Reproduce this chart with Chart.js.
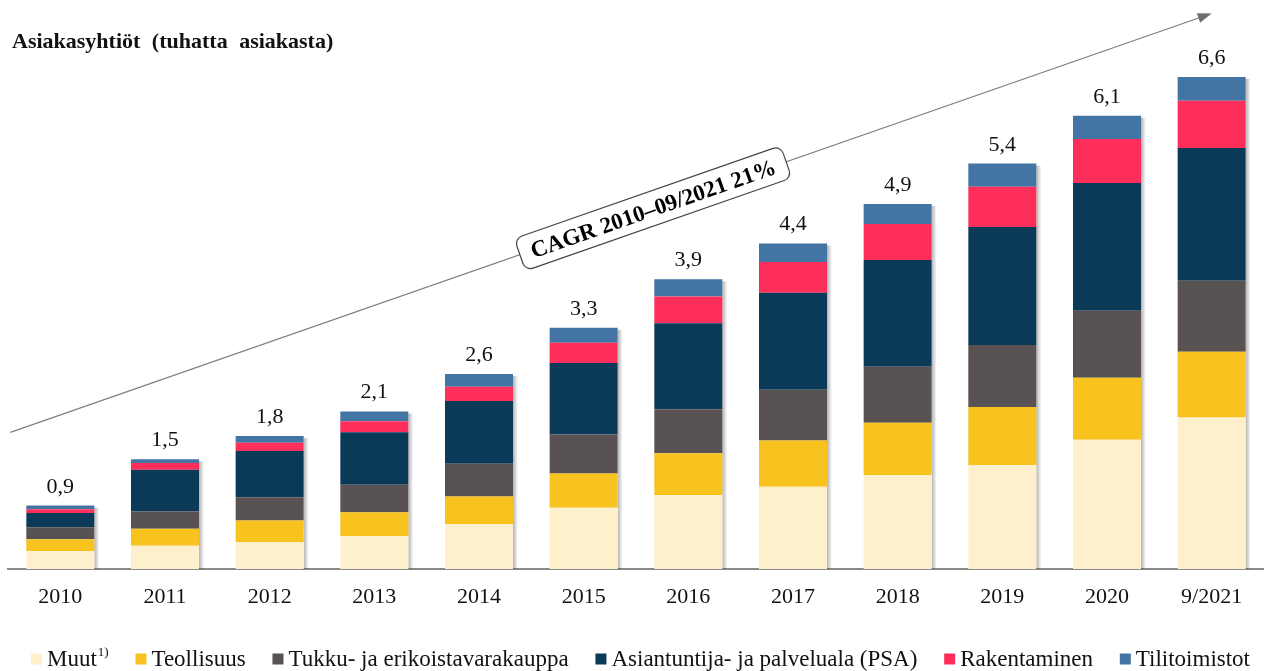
<!DOCTYPE html>
<html>
<head>
<meta charset="utf-8">
<script src="https://cdn.jsdelivr.net/npm/chart.js@4.4.0/dist/chart.umd.min.js"></script>
<style>
  html, body { margin: 0; padding: 0; background: #fff; }
  #wrap { width: 1264px; height: 671px; position: relative; }
</style>
</head>
<body>
<div id="wrap"><canvas id="chart"></canvas></div>
<script>
// categories and values (thousand customers)
const years = ['2010', '2011', '2012', '2013', '2014', '2015', '2016', '2017', '2018', '2019', '2020', '9/2021'];
const totalLabels = ['0,9', '1,5', '1,8', '2,1', '2,6', '3,3', '3,9', '4,4', '4,9', '5,4', '6,1', '6,6'];

const muut         = [0.24, 0.31, 0.36, 0.44, 0.60, 0.82, 0.99, 1.10, 1.26, 1.39, 1.73, 2.03];
const teollisuus   = [0.16, 0.23, 0.29, 0.32, 0.37, 0.46, 0.56, 0.62, 0.70, 0.78, 0.83, 0.88];
const tukku        = [0.16, 0.23, 0.31, 0.37, 0.44, 0.52, 0.59, 0.68, 0.75, 0.83, 0.90, 0.95];
const psa          = [0.19, 0.56, 0.62, 0.70, 0.84, 0.96, 1.15, 1.30, 1.43, 1.58, 1.71, 1.78];
const rakentaminen = [0.05, 0.09, 0.11, 0.15, 0.19, 0.27, 0.36, 0.41, 0.48, 0.54, 0.59, 0.63];
const tilitoimistot= [0.05, 0.05, 0.09, 0.13, 0.17, 0.20, 0.23, 0.25, 0.27, 0.31, 0.31, 0.32];

const seriesNames = ['Muut', 'Teollisuus', 'Tukku- ja erikoistavarakauppa', 'Asiantuntija- ja palveluala (PSA)', 'Rakentaminen', 'Tilitoimistot'];
const seriesNotes = ['1)', '', '', '', '', ''];
const seriesColors = ['#FEF0CC', '#F8C21F', '#585352', '#0B3A58', '#FE2E5A', '#4375A4'];
const seriesData = [muut, teollisuus, tukku, psa, rakentaminen, tilitoimistot];

const SERIF = '"Liberation Serif", "Times New Roman", serif';

// shadow strip on the right side of every bar
const barShadow = {
  id: 'barShadow',
  beforeDatasetsDraw(chart) {
    const ctx = chart.ctx;
    const top = chart.getDatasetMeta(seriesData.length - 1).data;
    const yBase = chart.scales.y.getPixelForValue(0);
    ctx.save();
    top.forEach(bar => {
      const right = bar.x + bar.width / 2;
      const g = ctx.createLinearGradient(right, 0, right + 5, 0);
      g.addColorStop(0, 'rgba(0,0,0,0.30)');
      g.addColorStop(1, 'rgba(0,0,0,0)');
      ctx.fillStyle = g;
      ctx.fillRect(right, bar.y + 2, 5, yBase - bar.y - 2);
    });
    ctx.restore();
  }
};

// totals, title, CAGR arrow and legend
const extras = {
  id: 'extras',
  afterDraw(chart) {
    const ctx = chart.ctx;
    const x = chart.scales.x, y = chart.scales.y;
    ctx.save();

    // totals above bars
    ctx.font = '22px ' + SERIF;
    ctx.fillStyle = '#111';
    ctx.textAlign = 'center';
    ctx.textBaseline = 'alphabetic';
    years.forEach((c, i) => {
      let sum = 0;
      seriesData.forEach(s => { sum += s[i]; });
      ctx.fillText(totalLabels[i], x.getPixelForValue(i), y.getPixelForValue(sum) - 13);
    });

    // title
    ctx.font = 'bold 22px ' + SERIF;
    ctx.textAlign = 'left';
    ctx.fillStyle = '#111';
    ctx.wordSpacing = '6px';
    ctx.fillText('Asiakasyhtiöt (tuhatta asiakasta)', 12, 48);
    ctx.wordSpacing = '0px';

    // growth arrow
    const x0 = x.getPixelForValue(0) - 50, y0 = y.getPixelForValue(1.83);
    const x1 = x.getPixelForValue(11), y1 = y.getPixelForValue(7.44);
    const ang = Math.atan2(y1 - y0, x1 - x0);
    ctx.strokeStyle = '#7f7f7f';
    ctx.lineWidth = 1.2;
    ctx.beginPath();
    ctx.moveTo(x0, y0);
    ctx.lineTo(x1 - 10 * Math.cos(ang), y1 - 10 * Math.sin(ang));
    ctx.stroke();
    ctx.fillStyle = '#6f6f6f';
    ctx.beginPath();
    ctx.moveTo(x1, y1);
    ctx.lineTo(x1 - 14 * Math.cos(ang) + 5 * Math.sin(ang), y1 - 14 * Math.sin(ang) - 5 * Math.cos(ang));
    ctx.lineTo(x1 - 14 * Math.cos(ang) - 5 * Math.sin(ang), y1 - 14 * Math.sin(ang) + 5 * Math.cos(ang));
    ctx.closePath();
    ctx.fill();

    // CAGR box on the arrow
    const t = 0.535;
    const cx = x0 + (x1 - x0) * t, cy = y0 + (y1 - y0) * t;
    ctx.translate(cx, cy);
    ctx.rotate(ang);
    const bw = 282, bh = 34;
    ctx.beginPath();
    ctx.roundRect(-bw / 2, -bh / 2, bw, bh, 8);
    ctx.fillStyle = '#fff';
    ctx.fill();
    ctx.strokeStyle = '#444';
    ctx.lineWidth = 1.2;
    ctx.stroke();
    ctx.fillStyle = '#000';
    ctx.font = 'bold 23px ' + SERIF;
    ctx.textAlign = 'center';
    ctx.textBaseline = 'middle';
    ctx.fillText('CAGR 2010–09/2021 21%', 0, 2);
    ctx.setTransform(1, 0, 0, 1, 0, 0);

    // legend, spread between the outer edges of the plot
    const mainFont = '23px ' + SERIF, noteFont = '13px ' + SERIF;
    ctx.textAlign = 'left';
    ctx.textBaseline = 'middle';
    const box = 11, gapText = 5;
    const widths = seriesNames.map((n, i) => {
      ctx.font = mainFont;
      let w = box + gapText + ctx.measureText(n).width;
      if (seriesNotes[i]) { ctx.font = noteFont; w += 1 + ctx.measureText(seriesNotes[i]).width; }
      return w;
    });
    const left = 31, right = 1250;
    const sumW = widths.reduce((a, b) => a + b, 0);
    const gapItem = (right - left - sumW) / (widths.length - 1);
    let lx = left;
    const ly = 659;
    seriesNames.forEach((n, i) => {
      ctx.fillStyle = seriesColors[i];
      ctx.fillRect(lx, ly - box / 2, box, box);
      ctx.fillStyle = '#111';
      ctx.font = mainFont;
      const tx = lx + box + gapText;
      ctx.fillText(n, tx, ly + 1);
      if (seriesNotes[i]) {
        const nw = ctx.measureText(n).width;
        ctx.font = noteFont;
        ctx.fillText(seriesNotes[i], tx + nw + 1, ly - 6);
      }
      lx += widths[i] + gapItem;
    });

    ctx.restore();
  }
};

new Chart(document.getElementById('chart'), {
  type: 'bar',
  data: {
    labels: years,
    datasets: seriesNames.map((name, i) => ({
      label: name,
      data: seriesData[i],
      backgroundColor: seriesColors[i],
      borderWidth: 0,
      barPercentage: 0.65,
      categoryPercentage: 1
    }))
  },
  options: {
    responsive: true,
    maintainAspectRatio: false,
    animation: false,
    layout: { padding: { left: 8, right: 0, top: 9, bottom: 60 } },
    plugins: {
      legend: { display: false },
      tooltip: { enabled: false }
    },
    scales: {
      x: {
        stacked: true,
        grid: { display: false, drawTicks: false },
        border: { display: true, color: '#8a8a8a', width: 2 },
        ticks: { color: '#111', font: { family: SERIF, size: 22 }, padding: 15 },
        afterFit(s) { s.height = 42; }
      },
      y: {
        stacked: true,
        display: false,
        min: 0,
        max: 7.5
      }
    }
  },
  plugins: [barShadow, extras]
});
</script>
</body>
</html>
